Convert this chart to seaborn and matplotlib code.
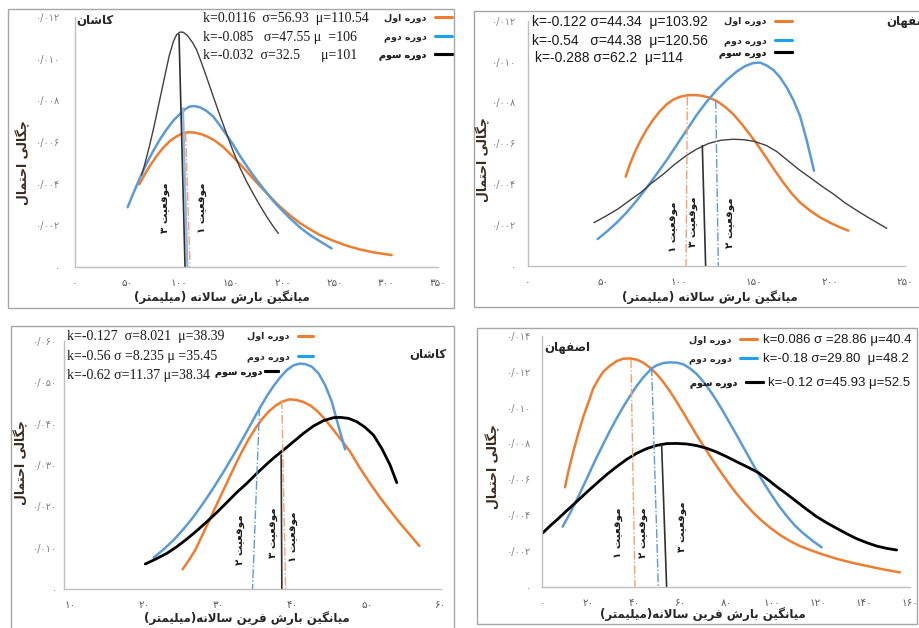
import matplotlib
matplotlib.use("Agg")
import matplotlib.pyplot as plt
import seaborn as sns
from matplotlib.lines import Line2D
from matplotlib.patches import Rectangle

# ---------------- data ----------------
# Panel 1: Kashan, annual mean precipitation
p1_orange_x = [61.97, 67.43, 72.25, 78.67, 85.09, 91.51, 97.94, 103.72, 109.17, 115.6, 122.02, 128.44, 134.86, 142.25, 149.31, 157.34, 165.37, 173.39, 181.42, 189.45, 197.48, 207.11, 216.74, 226.38, 236.01, 248.85, 261.7, 274.54, 287.38, 305.04]
p1_orange_y = [0.00396, 0.00446, 0.00486, 0.00533, 0.00573, 0.00605, 0.00627, 0.00642, 0.00647, 0.00645, 0.00637, 0.00624, 0.00606, 0.00578, 0.00544, 0.00502, 0.00459, 0.00414, 0.00371, 0.00329, 0.00289, 0.00247, 0.0021, 0.0018, 0.00152, 0.00125, 0.00101, 0.00083, 0.00069, 0.00056]
p1_blue_x = [50.73, 56.19, 62.61, 69.04, 75.46, 81.88, 88.3, 94.72, 101.15, 105.96, 110.14, 114.63, 120.41, 126.83, 133.26, 139.68, 146.1, 152.52, 158.94, 166.97, 175.0, 183.03, 191.05, 199.08, 207.11, 216.74, 226.38, 236.01, 247.25]
p1_blue_y = [0.00286, 0.00353, 0.00428, 0.00497, 0.00558, 0.00613, 0.00661, 0.00703, 0.00735, 0.00757, 0.0077, 0.00773, 0.00767, 0.00749, 0.00722, 0.00679, 0.00634, 0.00586, 0.00533, 0.00473, 0.00417, 0.00366, 0.00316, 0.00273, 0.00233, 0.00189, 0.00152, 0.00122, 0.00088]
p1_black_x = [64.22, 67.43, 71.61, 76.1, 81.24, 86.05, 90.55, 94.72, 97.94, 101.15, 104.36, 108.21, 113.35, 117.2, 122.02, 126.83, 133.26, 139.68, 146.1, 152.52, 158.94, 165.37, 171.79, 178.21, 184.63, 191.05, 195.87]
p1_black_y = [0.00441, 0.00497, 0.00578, 0.00674, 0.00794, 0.00906, 0.01011, 0.01083, 0.01117, 0.01129, 0.01128, 0.01113, 0.01078, 0.01043, 0.00979, 0.00911, 0.00818, 0.00727, 0.00639, 0.00553, 0.00476, 0.00409, 0.0035, 0.00294, 0.00241, 0.00193, 0.0016]
p1_pos_top_x = [106.6, 104.0, 100.2]   # orange, blue, black
p1_pos_top_y = [0.00642, 0.00762, 0.01118]
p1_pos_bot_x = [110.8, 108.2, 106.0]

# Panel 2: Isfahan, annual mean precipitation
p2_orange_x = [64.93, 67.8, 71.11, 74.87, 78.84, 83.26, 87.68, 92.09, 96.51, 100.93, 106.45, 110.87, 115.28, 119.7, 125.22, 130.74, 136.26, 141.78, 147.31, 152.83, 158.35, 163.87, 169.39, 174.91, 180.43, 187.06, 193.68, 200.31, 206.93, 212.46]
p2_orange_y = [0.00437, 0.00499, 0.00559, 0.00616, 0.00668, 0.00717, 0.00758, 0.00791, 0.00814, 0.00828, 0.00836, 0.00836, 0.00833, 0.00825, 0.00807, 0.00779, 0.00742, 0.00695, 0.00642, 0.00587, 0.00527, 0.00466, 0.00408, 0.00355, 0.00311, 0.00271, 0.00238, 0.00212, 0.00189, 0.00173]
p2_blue_x = [46.38, 52.34, 58.97, 65.59, 72.22, 78.84, 85.47, 92.09, 98.72, 105.34, 111.97, 118.6, 125.22, 131.85, 138.47, 144.0, 149.51, 153.93, 158.35, 162.77, 167.18, 171.6, 176.02, 180.43, 184.85, 189.71]
p2_blue_y = [0.00132, 0.00168, 0.00212, 0.00262, 0.0032, 0.00383, 0.0045, 0.00518, 0.00592, 0.00665, 0.00739, 0.00804, 0.00861, 0.0091, 0.00951, 0.00978, 0.00993, 0.00995, 0.00981, 0.00959, 0.00923, 0.00874, 0.00812, 0.00734, 0.00616, 0.00466]
p2_black_x = [43.9, 52, 60, 67, 75, 82, 90, 97, 105, 112, 120, 128, 136, 143, 150, 158, 165, 172, 180, 188, 195, 203, 210, 218, 225, 232, 237.9]
p2_black_y = [0.00212, 0.00245, 0.0028, 0.00318, 0.0036, 0.00405, 0.0045, 0.00495, 0.0054, 0.00572, 0.006, 0.00615, 0.0062, 0.00618, 0.0061, 0.0059, 0.0056, 0.00518, 0.0047, 0.00428, 0.0039, 0.0035, 0.0031, 0.00272, 0.0024, 0.0021, 0.00184]
p2_pos_top_x = [105.8, 124.6, 115.7]
p2_pos_top_y = [0.00828, 0.00812, 0.00589]
p2_pos_bot_x = [104.9, 126.3, 117.9]

# Panel 3: Kashan, annual extreme precipitation
p3_orange_x = [25.17, 25.98, 26.88, 27.78, 28.67, 29.57, 30.47, 31.37, 32.27, 33.17, 34.07, 34.97, 35.87, 36.76, 37.66, 38.56, 39.6, 40.58, 41.48, 42.38, 43.28, 44.4, 45.53, 46.65, 47.78, 49.12, 50.47, 51.82, 53.17, 54.52, 55.87, 57.12]
p3_orange_y = [0.00483, 0.00692, 0.00949, 0.01287, 0.01625, 0.01971, 0.02316, 0.02654, 0.03, 0.03322, 0.03619, 0.03877, 0.04102, 0.04287, 0.04424, 0.04528, 0.04585, 0.04568, 0.0452, 0.0444, 0.04311, 0.04102, 0.03845, 0.03587, 0.03322, 0.0292, 0.02558, 0.02212, 0.01898, 0.01593, 0.01311, 0.01046]
p3_blue_x = [21.26, 22.61, 23.96, 25.3, 26.65, 28.0, 29.35, 30.7, 32.04, 33.39, 34.74, 35.64, 36.54, 37.44, 38.34, 39.24, 40.13, 40.94, 41.71, 42.6, 43.51, 44.4, 45.3, 46.2, 47.1]
p3_blue_y = [0.00764, 0.00965, 0.0119, 0.01456, 0.01753, 0.02091, 0.02453, 0.02839, 0.03241, 0.03668, 0.04102, 0.04392, 0.04665, 0.04906, 0.05115, 0.05292, 0.05405, 0.05445, 0.05437, 0.05373, 0.05212, 0.0493, 0.04528, 0.03941, 0.03378]
p3_black_x = [20.13, 21.48, 23.06, 24.4, 25.75, 27.1, 28.45, 29.8, 31.15, 32.49, 33.84, 35.19, 36.54, 37.66, 38.79, 40.13, 41.48, 42.83, 44.18, 45.53, 46.43, 47.55, 48.67, 49.8, 50.92, 52.04, 53.17, 54.07]
p3_black_y = [0.00611, 0.00724, 0.00869, 0.0103, 0.01215, 0.01416, 0.01633, 0.01858, 0.02099, 0.0234, 0.02558, 0.02799, 0.03024, 0.03201, 0.03362, 0.03563, 0.03764, 0.03941, 0.0407, 0.04142, 0.0415, 0.04126, 0.04046, 0.03909, 0.03724, 0.03402, 0.03, 0.02574]
p3_pos_top_x = [38.56, 35.55, 38.47]
p3_pos_top_y = [0.04568, 0.04392, 0.03241]
p3_pos_bot_x = [39.06, 34.6, 38.56]

# Panel 4: Isfahan, annual extreme precipitation
p4_orange_x = [9.86, 11.31, 13.49, 15.67, 17.84, 20.02, 22.19, 24.37, 26.54, 29.45, 32.35, 35.25, 38.15, 41.05, 43.95, 46.85, 49.75, 52.65, 55.56, 58.46, 61.36, 64.26, 67.16, 70.06, 72.96, 75.86, 78.76, 81.66, 84.57, 88.19, 91.82, 95.45, 99.07, 103.42, 107.78, 112.13, 116.48, 122.28, 128.08, 135.34, 142.59, 149.84, 155.64]
p4_orange_y = [0.00555, 0.00642, 0.00754, 0.00856, 0.00949, 0.01028, 0.01108, 0.01158, 0.01201, 0.01234, 0.0126, 0.01273, 0.01275, 0.01268, 0.01251, 0.01223, 0.01188, 0.01143, 0.01091, 0.01033, 0.00972, 0.00909, 0.00847, 0.00788, 0.0073, 0.00674, 0.0062, 0.00568, 0.00519, 0.00464, 0.00413, 0.00369, 0.0033, 0.00289, 0.00255, 0.00227, 0.00205, 0.00179, 0.00156, 0.00132, 0.00112, 0.00093, 0.0008]
p4_blue_x = [8.85, 12.04, 14.94, 17.84, 20.74, 23.64, 26.54, 29.45, 32.35, 35.25, 38.15, 41.05, 43.95, 47.58, 49.75, 52.65, 55.56, 58.46, 61.36, 64.26, 67.16, 70.06, 72.96, 75.86, 78.76, 81.66, 84.57, 88.19, 91.82, 95.45, 99.07, 102.7, 106.32, 109.95, 113.58, 117.93, 121.56]
p4_blue_y = [0.00335, 0.0041, 0.00484, 0.00562, 0.00642, 0.00722, 0.00797, 0.00871, 0.0094, 0.01005, 0.01065, 0.01121, 0.01169, 0.01219, 0.01236, 0.01249, 0.01253, 0.01251, 0.01242, 0.01219, 0.01188, 0.01145, 0.01095, 0.01039, 0.00977, 0.00912, 0.00847, 0.00763, 0.0068, 0.00599, 0.00525, 0.00456, 0.00395, 0.00341, 0.00298, 0.00253, 0.0022]
p4_black_x = [0, 3.34, 6.24, 10.59, 14.94, 19.29, 23.64, 28.0, 32.35, 36.7, 41.05, 45.4, 49.75, 54.11, 58.46, 62.81, 67.16, 71.51, 75.86, 80.21, 84.57, 89.64, 93.99, 98.35, 101.97, 106.32, 110.68, 115.03, 119.38, 123.73, 128.08, 132.43, 136.79, 141.14, 145.49, 149.84, 154.19]
p4_black_y = [0.00298, 0.00339, 0.00372, 0.00424, 0.00475, 0.00527, 0.00577, 0.00626, 0.0067, 0.00711, 0.00745, 0.00771, 0.00789, 0.00799, 0.008, 0.00797, 0.00788, 0.00773, 0.00752, 0.00726, 0.00698, 0.00666, 0.00637, 0.00596, 0.00559, 0.00518, 0.00475, 0.00432, 0.00391, 0.00357, 0.00326, 0.00296, 0.00268, 0.00246, 0.00227, 0.00214, 0.00205]
p4_pos_top_x = [38.58, 47.58, 51.93]
p4_pos_top_y = [0.0127, 0.01225, 0.00791]
p4_pos_bot_x = [40.32, 50.48, 54.1]

# tick values
p1_xticks = [0, 50, 100, 150, 200, 250, 300, 350]
p1_yticks = [0, 0.002, 0.004, 0.006, 0.008, 0.010, 0.012]
p2_xticks = [0, 50, 100, 150, 200, 250]
p2_yticks = [0, 0.002, 0.004, 0.006, 0.008, 0.010, 0.012]
p3_xticks = [10, 20, 30, 40, 50, 60]
p3_yticks = [0, 0.010, 0.020, 0.030, 0.040, 0.050, 0.060]
p4_xticks = [0, 20, 40, 60, 80, 100, 120, 140, 160]
p4_yticks = [0, 0.002, 0.004, 0.006, 0.008, 0.010, 0.012, 0.014]

# texts
period_labels = ["دوره اول", "دوره دوم", "دوره سوم"]
pos_labels = ["موقعیت ۱", "موقعیت ۲", "موقعیت ۳"]
ylabel_txt = "چگالی احتمال"
xlabel_mean = "میانگین بارش سالانه (میلیمتر)"
xlabel_ext = "میانگین بارش فرین سالانه(میلیمتر)"
kashan = "کاشان"
isfahan = "اصفهان"
p1_params = ["k=0.0116  σ=56.93  μ=110.54", "k=-0.085   σ=47.55 μ  =106", "k=-0.032  σ=32.5      μ=101"]
p2_params = ["k=-0.122 σ=44.34  μ=103.92", "k=-0.54   σ=44.38  μ=120.56", "k=-0.288 σ=62.2  μ=114"]
p3_params = ["k=-0.127  σ=8.021  μ=38.39", "k=-0.56 σ =8.235 μ =35.45", "k=-0.62 σ=11.37 μ=38.34"]
p4_params = ["k=0.086 σ =28.86 μ=40.4", "k=-0.18 σ=29.80  μ=48.2", "k=-0.12 σ=45.93 μ=52.5"]

# ---------------- Persian shaping helpers ----------------
FORMS = {
    '\u0627': ('\uFE8D', '\uFE8E', None, None),
    '\u0628': ('\uFE8F', '\uFE90', '\uFE91', '\uFE92'),
    '\u062A': ('\uFE95', '\uFE96', '\uFE97', '\uFE98'),
    '\u062D': ('\uFEA1', '\uFEA2', '\uFEA3', '\uFEA4'),
    '\u062F': ('\uFEA9', '\uFEAA', None, None),
    '\u0631': ('\uFEAD', '\uFEAE', None, None),
    '\u0633': ('\uFEB1', '\uFEB2', '\uFEB3', '\uFEB4'),
    '\u0634': ('\uFEB5', '\uFEB6', '\uFEB7', '\uFEB8'),
    '\u0635': ('\uFEB9', '\uFEBA', '\uFEBB', '\uFEBC'),
    '\u0639': ('\uFEC9', '\uFECA', '\uFECB', '\uFECC'),
    '\u0641': ('\uFED1', '\uFED2', '\uFED3', '\uFED4'),
    '\u0642': ('\uFED5', '\uFED6', '\uFED7', '\uFED8'),
    '\u0644': ('\uFEDD', '\uFEDE', '\uFEDF', '\uFEE0'),
    '\u0645': ('\uFEE1', '\uFEE2', '\uFEE3', '\uFEE4'),
    '\u0646': ('\uFEE5', '\uFEE6', '\uFEE7', '\uFEE8'),
    '\u0647': ('\uFEE9', '\uFEEA', '\uFEEB', '\uFEEC'),
    '\u0648': ('\uFEED', '\uFEEE', None, None),
    '\u06CC': ('\uFBFC', '\uFBFD', '\uFBFE', '\uFBFF'),
    '\u06A9': ('\uFB8E', '\uFB8F', '\uFB90', '\uFB91'),
    '\u06AF': ('\uFB92', '\uFB93', '\uFB94', '\uFB95'),
    '\u0686': ('\uFB7A', '\uFB7B', '\uFB7C', '\uFB7D'),
}
MIRROR = {'(': ')', ')': '('}


def fa(s):
    s = s.replace('\u064A', '\u06CC').replace('\u0643', '\u06A9')
    out = []
    prev_joins = False
    i, n = 0, len(s)
    while i < n:
        c = s[i]
        nxt = s[i + 1] if i + 1 < n else ''
        if c in FORMS:
            if c == '\u0644' and nxt == '\u0627':
                out.append('\uFEFC' if prev_joins else '\uFEFB')
                prev_joins = False
                i += 2
                continue
            f = FORMS[c]
            dual = f[2] is not None
            can_next = dual and nxt in FORMS
            if prev_joins and can_next:
                g = f[3]
            elif prev_joins:
                g = f[1]
            elif can_next:
                g = f[2]
            else:
                g = f[0]
            out.append(g)
            prev_joins = dual
        else:
            out.append(c)
            prev_joins = False
        i += 1
    runs = []
    for ch in out:
        ltr = ch.isdigit() or ('a' <= ch.lower() <= 'z')
        if runs and runs[-1][0] == ltr:
            runs[-1][1].append(ch)
        else:
            runs.append([ltr, [ch]])
    res = ''
    for ltr, cs in reversed(runs):
        if ltr:
            res += ''.join(cs)
        else:
            res += ''.join(MIRROR.get(c, c) for c in reversed(cs))
    return res


FA_DIG = str.maketrans('0123456789.', '۰۱۲۳۴۵۶۷۸۹/')


def fa_num(v, dec):
    if v == 0:
        return '۰'
    return (f"{v:.{dec}f}").translate(FA_DIG)


# ---------------- figure ----------------
sns.set_style("white")
plt.rcParams['font.family'] = ['DejaVu Sans']
W, H = 920, 628
fig = plt.figure(figsize=(W / 100, H / 100), dpi=100)
fig.patch.set_facecolor('white')

ORANGE = '#ED7D31'
BLUE = '#5B9BD5'
LEG_BLUE = '#1AA3E8'
POS_ORANGE = '#F4A070'
DARK = '#3a2a20'


def fx(x):
    return x / W


def fy(y):
    return 1 - y / H


# panel frames
for (l, t, r, b) in [(8, 9, 454, 308), (474, 11, 925, 307), (11, 326, 454, 632), (477, 328, 917, 624)]:
    fig.patches.append(Rectangle((fx(l), fy(b)), (r - l) / W, (b - t) / H, transform=fig.transFigure,
                                 fill=False, edgecolor='#A6A6A6', lw=1.0))


def make_ax(l, r, t, b, xlim, ylim, xticks, yticks, ydec, ypad):
    ax = fig.add_axes([fx(l), fy(b), (r - l) / W, (b - t) / H])
    ax.set_facecolor('none')
    ax.set_xlim(*xlim)
    ax.set_ylim(*ylim)
    ax.set_xticks(xticks)
    ax.set_xticklabels([fa_num(v, 0) for v in xticks], fontsize=7.5, color='#595959')
    ax.set_yticks(yticks)
    ax.set_yticklabels([fa_num(v, ydec) for v in yticks], fontsize=7, color='#7F7F7F')
    for s in ['top', 'right']:
        ax.spines[s].set_visible(False)
    for s in ['left', 'bottom']:
        ax.spines[s].set_color('#BFBFBF')
        ax.spines[s].set_linewidth(1.0)
    ax.tick_params(axis='both', direction='out', length=4, width=1, color='#BFBFBF')
    ax.tick_params(axis='x', pad=4)
    ax.tick_params(axis='y', pad=ypad)
    ax.grid(False)
    return ax


def curves(ax, data, black_lw, black_col):
    (ox, oy), (bx, by), (kx, ky) = data
    sns.lineplot(x=ox, y=oy, ax=ax, color=ORANGE, linewidth=1.8, sort=False, estimator=None)
    sns.lineplot(x=bx, y=by, ax=ax, color=BLUE, linewidth=1.8, sort=False, estimator=None)
    sns.lineplot(x=kx, y=ky, ax=ax, color=black_col, linewidth=black_lw, sort=False, estimator=None)


def pos_lines(ax, tx, ty, bx, blue_style):
    styles = [(POS_ORANGE, '-.', 1.0),
              (BLUE if blue_style == '-.' else '#8DB4E2', blue_style, 1.0 if blue_style == '-.' else 1.6),
              ('#303030', '-', 1.2)]
    for i, (c, ls, lw) in enumerate(styles):
        sns.lineplot(x=[tx[i], bx[i]], y=[ty[i], 0], ax=ax, color=c, linestyle=ls, linewidth=lw,
                     sort=False, estimator=None)


def legend_row(ax, color, label, x_right, y, lw=2.2, hl=1.8, tp=0.9):
    h = Line2D([], [], color=color, lw=lw)
    leg = ax.legend(handles=[h], labels=[fa(label)], loc='center right',
                    bbox_to_anchor=(fx(x_right), fy(y)), bbox_transform=fig.transFigure,
                    frameon=False, markerfirst=False, handlelength=hl, handletextpad=tp,
                    borderpad=0, borderaxespad=0,
                    prop={'family': 'DejaVu Sans', 'weight': 'bold', 'size': 6.8})
    ax.add_artist(leg)


def ftext(x, y, s, **kw):
    fig.text(fx(x), fy(y), s, **kw)


def pos_text(x, y, label):
    ftext(x, y, fa(label), rotation=90, ha='center', va='center', fontsize=7.5, fontweight='bold', color='#1a1a1a')


def axis_labels(xl_x, xl_y, xl, yl_x, yl_y):
    ftext(xl_x, xl_y, fa(xl), ha='center', va='center', fontsize=8.5, fontweight='bold', color='#262626')
    ftext(yl_x, yl_y, fa(ylabel_txt), ha='center', va='center', rotation=90, fontsize=9, fontweight='bold', color=DARK)


# ---------- Panel 1 ----------
ax1 = make_ax(75, 438.3, 17.3, 266.7, (0, 350), (0, 0.012), p1_xticks, p1_yticks, 3, 6.5)
curves(ax1, [(p1_orange_x, p1_orange_y), (p1_blue_x, p1_blue_y), (p1_black_x, p1_black_y)], 1.0, '#404040')
pos_lines(ax1, p1_pos_top_x, p1_pos_top_y, p1_pos_bot_x, '-')
for lab, col, yy in zip(period_labels, [ORANGE, LEG_BLUE, 'black'], [18.3, 37.3, 55]):
    legend_row(ax1, col, lab, 452, yy)
for txt, yy in zip(p1_params, [18.3, 37.3, 55]):
    ftext(203, yy, txt, ha='left', va='center', fontsize=10, family='Liberation Serif', color='#1a1a1a')
ftext(95, 21, fa(kashan), ha='center', va='center', fontsize=8.5, fontweight='bold', color='#262626')
pos_text(165, 208, pos_labels[2])
pos_text(202, 208, pos_labels[0])
axis_labels(222, 297, xlabel_mean, 23, 163)

# ---------- Panel 2 ----------
ax2 = make_ax(527.7, 905, 20.7, 266, (0, 250), (0, 0.012), p2_xticks, p2_yticks, 3, 4)
curves(ax2, [(p2_orange_x, p2_orange_y), (p2_blue_x, p2_blue_y), (p2_black_x, p2_black_y)], 1.0, '#404040')
pos_lines(ax2, p2_pos_top_x, p2_pos_top_y, p2_pos_bot_x, '-.')
for lab, col, yy in zip(period_labels, [ORANGE, LEG_BLUE, 'black'], [21.7, 40.7, 53]):
    legend_row(ax2, col, lab, 792, yy)
for txt, yy, xx in zip(p2_params, [21.7, 40.7, 58], [532, 532, 535]):
    ftext(xx, yy, txt, ha='left', va='center', fontsize=10, family='Liberation Sans', color='#1a1a1a')
ftext(932, 22, fa(isfahan), ha='right', va='center', fontsize=8.5, fontweight='bold', color='#262626')
pos_text(673, 227, pos_labels[0])
pos_text(693, 222, pos_labels[2])
pos_text(730, 223, pos_labels[1])
axis_labels(710, 297, xlabel_mean, 483, 160)

# ---------- Panel 3 ----------
ax3 = make_ax(64.3, 440.7, 340.7, 589.3, (9.2, 60), (0, 0.06), p3_xticks, p3_yticks, 3, 1.5)
curves(ax3, [(p3_orange_x, p3_orange_y), (p3_blue_x, p3_blue_y), (p3_black_x, p3_black_y)], 2.0, 'black')
pos_lines(ax3, p3_pos_top_x, p3_pos_top_y, p3_pos_bot_x, '-.')
legend_row(ax3, ORANGE, period_labels[0], 313, 336.7, hl=1.6)
legend_row(ax3, LEG_BLUE, period_labels[1], 313, 356.7, hl=1.6)
legend_row(ax3, 'black', period_labels[2], 278, 371.7, hl=1.4, tp=0.3)
for txt, yy in zip(p3_params, [336.7, 356.7, 375]):
    ftext(67, yy, txt, ha='left', va='center', fontsize=10, family='Liberation Serif', color='#1a1a1a')
ftext(428, 355, fa(kashan), ha='center', va='center', fontsize=8.5, fontweight='bold', color='#262626')
pos_text(240, 540, pos_labels[1])
pos_text(273, 533, pos_labels[2])
pos_text(293, 537, pos_labels[0])
axis_labels(247, 618, xlabel_ext, 21, 463)

# ---------- Panel 4 ----------
ax4 = make_ax(542.3, 910, 336, 586.7, (0, 160), (0, 0.014), p4_xticks, p4_yticks, 3, 4)
curves(ax4, [(p4_orange_x, p4_orange_y), (p4_blue_x, p4_blue_y), (p4_black_x, p4_black_y)], 2.0, 'black')
pos_lines(ax4, p4_pos_top_x, p4_pos_top_y, p4_pos_bot_x, '-.')
for lab, col, yy, xr in zip(period_labels, [ORANGE, LEG_BLUE, 'black'], [340, 359, 383], [757, 757, 763]):
    legend_row(ax4, col, lab, xr, yy)
for txt, yy, xx in zip(p4_params, [340, 359, 383], [763, 763, 768]):
    ftext(xx, yy, txt, ha='left', va='center', fontsize=9.5, family='Liberation Sans', color='#1a1a1a')
ftext(567, 348, fa(isfahan), ha='center', va='center', fontsize=8.5, fontweight='bold', color='#262626')
pos_text(618, 533, pos_labels[0])
pos_text(643, 533, pos_labels[1])
pos_text(682, 527, pos_labels[2])
axis_labels(703, 614, xlabel_ext, 493, 467)

fig.savefig("out.png", dpi=100, facecolor='white')
